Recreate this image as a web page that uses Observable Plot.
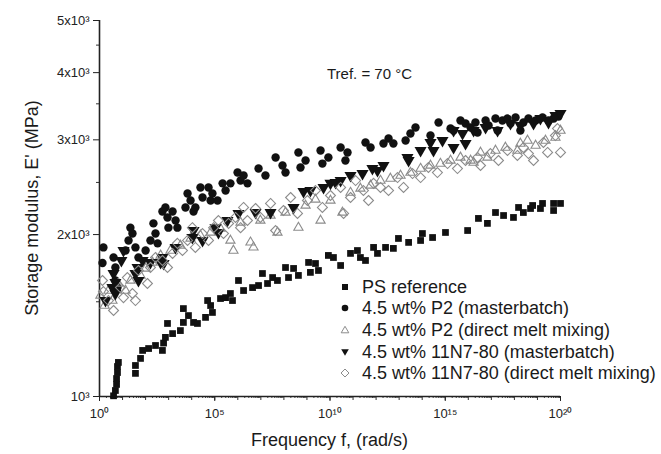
<!DOCTYPE html>
<html>
<head>
<meta charset="utf-8">
<script src="https://cdn.jsdelivr.net/npm/d3@7"></script>
<script src="https://cdn.jsdelivr.net/npm/@observablehq/plot@0.6"></script>
<style>
  html, body { margin: 0; padding: 0; background: #fff; }
  #wrap { position: relative; width: 661px; height: 454px; overflow: hidden;
          font-family: "Liberation Sans", Arial, Helvetica, sans-serif; color: #1a1a1a; }
  #wrap > svg { position: absolute; left: 0; top: 0; }
  .ov { position: absolute; white-space: nowrap; }
  .legrow { position: absolute; left: 339px; height: 20px; display: flex; align-items: center; font-size: 18px; white-space: nowrap; }
  .legrow svg { display: block; margin-right: 11px; flex: none; }
</style>
</head>
<body>
<div id="wrap"></div>
<script>
// ---------- data (frequency exponent log10 f, storage modulus E' in MPa) ----------
const seriesNames = [
  "PS reference",
  "4.5 wt% P2 (masterbatch)",
  "4.5 wt% P2 (direct melt mixing)",
  "4.5 wt% 11N7-80 (masterbatch)",
  "4.5 wt% 11N7-80 (direct melt mixing)"
];

const psExp = [0.61,0.69,0.74,0.74,0.78,0.78,0.82,1.56,1.56,1.78,1.87,2.13,2.43,2.73,2.78,2.86,2.95,3.17,3.51,3.64,3.64,3.86,4.08,4.25,4.60,4.69,4.82,4.90,5.25,5.47,5.68,5.77,6.03,6.25,6.64,6.90,7.07,7.29,7.51,7.72,8.07,8.20,8.42,8.63,9.07,9.15,9.37,9.50,9.93,10.15,10.46,10.89,11.19,11.32,11.54,11.89,12.06,12.41,12.75,12.97,13.41,13.93,14.01,14.45,15.01,15.97,16.44,16.83,17.18,17.53,17.96,18.18,18.39,18.70,18.79,19.13,19.22,19.70,19.70,20.00];
const psE   = [1003,1026,1053,1080,1108,1137,1157,1104,1142,1177,1218,1228,1244,1218,1257,1288,1367,1309,1326,1373,1457,1414,1373,1367,1403,1508,1476,1433,1521,1527,1554,1508,1643,1574,1594,1608,1693,1622,1664,1643,1737,1664,1730,1679,1775,1701,1767,1715,1829,1813,1752,1845,1868,1813,1790,1893,1845,1893,1885,1967,1934,1950,2009,1975,2018,2035,2143,2098,2198,2170,2152,2246,2198,2236,2265,2236,2285,2217,2285,2285];

const p2mbExp = [0.13,0.17,0.61,0.69,0.69,0.78,1.13,1.26,1.34,1.43,1.56,1.69,2.00,2.21,2.34,2.43,2.52,2.73,2.86,2.95,2.99,3.17,3.30,3.38,3.73,3.82,3.95,4.08,4.16,4.38,4.47,4.73,4.82,4.90,5.12,5.34,5.47,5.68,5.99,6.12,6.25,6.42,6.90,7.20,7.64,7.94,8.07,8.63,8.72,8.94,9.59,9.67,9.93,10.46,10.67,10.76,11.54,11.76,12.32,12.54,12.75,13.28,13.49,13.71,14.36,14.71,15.23,15.36,15.66,15.88,16.10,16.31,16.40,16.75,16.88,17.18,17.27,17.48,17.70,17.83,18.05,18.26,18.39,18.61,18.92,19.22,19.48,19.70,19.91];
const p2mbE   = [1771,1893,1813,1737,1643,1594,1868,1950,2060,2009,1893,1813,1868,1950,2098,2009,1926,2208,2246,2152,2060,2208,2124,2060,2246,2384,2314,2208,2246,2447,2344,2447,2314,2384,2314,2490,2415,2490,2608,2520,2575,2490,2653,2575,2782,2688,2608,2842,2665,2746,2866,2710,2782,2903,2746,2842,2966,2903,2953,3017,2953,2991,3082,3162,3056,3231,3149,3122,3258,3217,3162,3231,3096,3258,3190,3286,3122,3258,3286,3217,3300,3122,3231,3286,3258,3300,3258,3286,3315];

const p2dmExp = [0.04,0.22,0.39,0.56,0.82,1.13,1.34,1.78,2.00,2.30,2.65,3.08,3.51,3.95,4.38,4.82,5.25,5.68,5.81,6.12,6.55,6.68,6.98,7.42,7.72,8.07,8.63,8.94,9.37,9.59,10.02,10.54,10.89,11.32,11.76,12.19,12.62,13.06,13.49,13.93,14.36,14.79,15.23,15.66,16.10,16.23,16.53,16.83,17.18,17.61,18.13,18.26,18.57,18.92,19.35,19.78,20.00];
const p2dmE   = [1541,1476,1574,1508,1622,1574,1643,1679,1730,1775,1829,1868,1909,1967,1992,2018,2052,1950,1868,2106,1934,1893,2124,2170,2018,2198,2060,2265,2324,2124,2314,2198,2394,2436,2468,2520,2542,2575,2608,2653,2688,2710,2746,2782,2746,2722,2842,2782,2866,2903,2866,2953,2991,2928,2991,3030,3122];

const n7mbExp = [0.26,0.56,0.61,0.69,0.69,0.95,1.04,1.56,1.65,1.69,1.87,2.21,2.65,2.73,2.78,3.30,4.03,4.08,4.47,5.03,5.16,5.55,6.03,6.77,7.42,8.42,8.85,9.15,9.72,10.02,10.24,10.46,10.89,11.41,11.84,12.06,12.32,13.36,13.41,13.93,14.36,14.49,14.88,15.36,15.36,15.75,15.88,16.23,16.75,17.27,17.83,18.26,18.83,19.13,19.48,19.78,20.00];
const n7mbE   = [1508,1594,1693,1554,1629,1790,1868,1693,1737,1643,1790,1775,1775,1813,1767,1893,1975,2035,1950,2060,2018,2124,2189,2198,2198,2246,2404,2415,2447,2490,2500,2520,2575,2597,2653,2631,2688,2782,2746,2866,2966,2866,2991,2903,3122,3082,2953,3122,3162,3122,3217,3190,3217,3286,3231,3330,3358];

const n7dmExp = [0.13,0.17,0.39,0.61,0.91,1.04,1.21,1.43,1.56,1.69,2.08,2.21,2.43,2.73,2.95,3.17,3.38,3.60,3.82,4.03,4.16,4.47,4.73,4.95,5.16,5.38,5.60,5.90,6.12,6.25,6.42,6.77,6.98,7.42,7.64,7.98,8.29,8.59,9.02,9.37,9.67,10.02,10.46,10.59,10.89,11.11,11.45,11.67,11.89,12.19,12.54,12.93,13.19,13.58,13.93,14.27,14.66,15.10,15.53,15.88,16.40,16.53,16.96,17.31,17.70,18.13,18.39,18.61,18.83,19.26,19.44,19.78,19.87,20.00];
const n7dmE   = [1643,1567,1508,1445,1594,1527,1664,1554,1508,1715,1622,1737,1813,1790,1737,1845,1926,1868,1950,2060,1893,2009,1950,2060,2124,2009,2098,2152,2060,2246,2124,2236,2152,2285,2035,2217,2344,2189,2314,2415,2246,2364,2447,2189,2344,2520,2415,2314,2490,2447,2415,2553,2447,2597,2553,2665,2608,2710,2653,2746,2782,2688,2829,2746,2866,2806,2903,2829,2746,2966,2842,3056,3149,2842];

// ---------- axis ticks / labels ----------
const xMajorTicks = [1e0, 1e5, 1e10, 1e15, 1e20];
const xTickLabels = ["10\u2070", "10\u2075", "10\u00b9\u2070", "10\u00b9\u2075", "10\u00b2\u2070"];
const yMajorTicks = [1000, 2000, 3000, 4000, 5000];
const yTickLabels = ["10\u00b3", "2x10\u00b3", "3x10\u00b3", "4x10\u00b3", "5x10\u00b3"];
const yMinorTicks = [1500, 2500, 3500, 4500];
const xTitle = "Frequency f, (rad/s)";
const yTitle = "Storage modulus, E' (MPa)";
const annotation = "Tref. = 70 \u00b0C";

// ---------- build tables ----------
const toRows = (ex, ev) => ex.map((e, i) => ({f: Math.pow(10, e), E: ev[i]}));
const ps = toRows(psExp, psE);
const p2mb = toRows(p2mbExp, p2mbE);
const p2dm = toRows(p2dmExp, p2dmE);
const n7mb = toRows(n7mbExp, n7mbE);
const n7dm = toRows(n7dmExp, n7dmE);

const xDecadeTicks = d3.range(0, 21).map(k => Math.pow(10, k));
const xMinorTicks = d3.range(0, 20).flatMap(k => d3.range(2, 10).map(m => m * Math.pow(10, k)));

const triangleDown = {
  draw(context, size) {
    const y = -Math.sqrt(size / (Math.sqrt(3) * 3));
    context.moveTo(0, -y * 2);
    context.lineTo(-Math.sqrt(3) * y, y);
    context.lineTo(Math.sqrt(3) * y, y);
    context.closePath();
  }
};

const xLab = new Map(xMajorTicks.map((t, i) => [t, xTickLabels[i]]));
const yLab = new Map(yMajorTicks.map((t, i) => [t, yTickLabels[i]]));
const black = "#111";
const grey = "#8c8c8c";

const chart = Plot.plot({
  width: 661,
  height: 454,
  marginLeft: 99,
  marginRight: 101,
  marginTop: 20,
  marginBottom: 58,
  style: {fontFamily: "'Liberation Sans', Arial, sans-serif", fontSize: "13px", color: "#222", background: "transparent", overflow: "visible"},
  x: {type: "log", domain: [1, 1e20], axis: null, label: null},
  y: {type: "log", domain: [1000, 5000], axis: null, label: null},
  marks: [
    Plot.axisX(xMinorTicks, {tickSize: 2, tickFormat: () => "", label: null, stroke: "#444"}),
    Plot.axisX(xDecadeTicks, {tickSize: 4, tickFormat: () => "", label: null, stroke: "#333"}),
    Plot.axisX(xMajorTicks, {tickSize: 5, tickPadding: 7, tickFormat: d => xLab.get(d), label: null, fontSize: 13, fill: "#222", stroke: "#222"}),
    Plot.axisY(yMinorTicks, {tickSize: 3, tickFormat: () => "", label: null, stroke: "#333"}),
    Plot.axisY(yMajorTicks, {tickSize: 6, tickPadding: 4, tickFormat: d => yLab.get(d), label: null, fontSize: 13, fill: "#222", stroke: "#222"}),
    Plot.ruleX([1], {stroke: "#222", strokeWidth: 1.6}),
    Plot.ruleY([1000], {stroke: "#222", strokeWidth: 1.6}),
    Plot.dot(ps, {x: "f", y: "E", symbol: "square", r: 3.8, fill: black, stroke: "none"}),
    Plot.dot(p2mb, {x: "f", y: "E", symbol: "circle", r: 4.2, fill: black, stroke: "none"}),
    Plot.dot(p2dm, {x: "f", y: "E", symbol: "triangle2", r: 4.4, fill: "none", stroke: grey, strokeWidth: 1.1}),
    Plot.dot(n7mb, {x: "f", y: "E", symbol: triangleDown, r: 4.5, fill: black, stroke: "none"}),
    Plot.dot(n7dm, {x: "f", y: "E", symbol: "diamond2", r: 4.5, fill: "none", stroke: grey, strokeWidth: 1.1})
  ]
});

const wrap = document.getElementById("wrap");
wrap.appendChild(chart);

function addText(txt, css) {
  const d = document.createElement("div");
  d.className = "ov";
  d.textContent = txt;
  Object.assign(d.style, css);
  wrap.appendChild(d);
  return d;
}
// axis titles and annotation
addText(xTitle, {left: "0px", width: "659px", top: "430px", textAlign: "center", fontSize: "18px"});
addText(yTitle, {left: "32px", top: "208px", fontSize: "18px", transform: "translate(-50%,-50%) rotate(-90deg)"});
addText(annotation, {left: "327px", top: "65px", fontSize: "15px"});

// legend
const legendSymbols = [
  '<rect x="3" y="3" width="6" height="6" fill="#111"/>',
  '<circle cx="6" cy="6" r="3.3" fill="#111"/>',
  '<path d="M6,2.3 L9.8,8.8 L2.2,8.8 Z" fill="none" stroke="#8c8c8c" stroke-width="1"/>',
  '<path d="M6,9.7 L9.8,3.2 L2.2,3.2 Z" fill="#111"/>',
  '<path d="M6,2 L10,6 L6,10 L2,6 Z" fill="none" stroke="#8c8c8c" stroke-width="1"/>'
];
const legendTops = [277, 298, 320, 342, 363];
seriesNames.forEach((name, i) => {
  const row = document.createElement("div");
  row.className = "legrow";
  row.style.top = legendTops[i] + "px";
  row.innerHTML = '<svg width="12" height="12" viewBox="0 0 12 12">' + legendSymbols[i] + '</svg><span></span>';
  row.querySelector("span").textContent = name;
  wrap.appendChild(row);
});
</script>
</body>
</html>
